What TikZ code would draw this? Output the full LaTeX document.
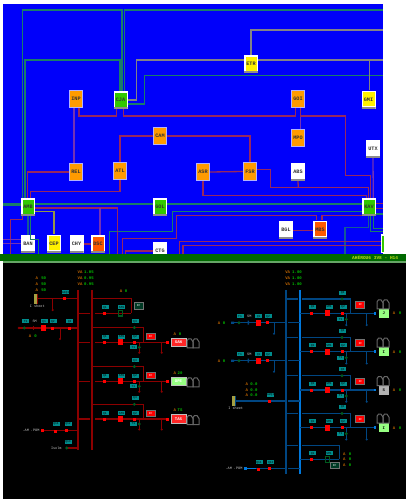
\documentclass[tikz,border=0pt]{standalone}
\usepackage{fontspec}
\setmainfont{Liberation Mono}
\usetikzlibrary{calc}
\definecolor{bgblue}{RGB}{0,0,250}
\definecolor{lgreen}{RGB}{25,125,105}
\definecolor{lred}{RGB}{150,40,95}
\definecolor{lviol}{RGB}{115,50,180}
\definecolor{lgray}{RGB}{130,130,135}
\definecolor{lolive}{RGB}{150,150,70}
\definecolor{lsteel}{RGB}{20,90,150}
\definecolor{torange}{RGB}{255,155,0}
\definecolor{tred}{RGB}{255,90,0}
\definecolor{tgreen}{RGB}{50,200,0}
\definecolor{barg}{RGB}{0,105,0}
\definecolor{dred}{RGB}{140,0,0}
\definecolor{bus1}{RGB}{0,70,130}
\definecolor{bus2}{RGB}{0,120,220}
\definecolor{tealb}{RGB}{0,140,140}
\definecolor{oranget}{RGB}{190,100,0}
\definecolor{greent}{RGB}{0,190,0}
\definecolor{dgr}{RGB}{0,90,30}
\definecolor{paleg}{RGB}{150,255,130}
\newcount\lc
\tikzset{
 tile/.style={rectangle,minimum width=14pt,minimum height=18pt,inner sep=0pt,fill=white,
   font=\fontsize{5.2}{5.2}\selectfont\bfseries,text=black!80,
   path picture={
     \fill[#1] ([shift={(1.5pt,2.5pt)}]path picture bounding box.south west) rectangle ([shift={(-1pt,-1.5pt)}]path picture bounding box.north east);
     \fill[black!45] (path picture bounding box.south west) rectangle ([yshift=1.8pt]path picture bounding box.south east);
   }},
 softtile/.style={rectangle,minimum width=13.5pt,minimum height=17.5pt,inner sep=0pt,fill=#1,draw=white!70!blue,line width=.8pt,
   font=\fontsize{5.2}{5.2}\selectfont\bfseries,text=black!80},
 gl/.style={lgreen,line width=1.3pt},
 rl/.style={lred,line width=1.3pt},
 vl/.style={lviol,line width=1.3pt},
 yl/.style={lgray,line width=1.4pt},
 ol/.style={lolive,line width=1.3pt},
 sl/.style={lsteel,line width=1.3pt},
 tag/.style={rectangle,fill=tealb,inner sep=0pt,minimum width=7pt,minimum height=4pt,text=black,font=\fontsize{3}{3}\selectfont},
 otxt/.style={inner sep=0pt,text=oranget,font=\fontsize{4}{4}\selectfont\bfseries},
 gtxt/.style={inner sep=0pt,text=greent,font=\fontsize{4}{4}\selectfont\bfseries},
 wtxt/.style={inner sep=0pt,text=white!80!black,font=\fontsize{3.5}{3.5}\selectfont},
 brk/.style={rectangle,fill=red,inner sep=0pt,minimum width=3pt,minimum height=3pt},
 bigbrk/.style={rectangle,fill=red,inner sep=0pt,minimum width=5pt,minimum height=6pt},
 gdot/.style={circle,fill=dgr,inner sep=0pt,minimum size=3.2pt},
 alarm/.style={rectangle,fill=red,draw=black!55,line width=.8pt,inner sep=0pt,minimum width=9pt,minimum height=6.5pt,text=white,font=\fontsize{3}{3}\selectfont},
 gbox/.style={rectangle,fill=dgr!120!green,draw=black!55,line width=.8pt,inner sep=0pt,minimum width=9pt,minimum height=6.5pt,text=white,font=\fontsize{3}{3}\selectfont},
 load/.style={rectangle,fill=#1,draw=black!25,line width=.6pt,inner sep=0pt,minimum width=15pt,minimum height=8.5pt,text=white,font=\fontsize{4}{4}\selectfont\bfseries},
 rload/.style={rectangle,fill=#1,inner sep=0pt,minimum width=10pt,minimum height=9pt,text=black,font=\fontsize{4}{4}\selectfont\bfseries},
 xf/.style={draw=black!60!white,line width=1pt},
 rw/.style={dred,line width=1.2pt},
 rt/.style={dred,line width=.9pt},
 bw/.style={bus1,line width=1.2pt},
 bt/.style={bus1,line width=.9pt},
}
\newcommand\nx{\global\advance\lc by 1 }
\newcommand\tg[3]{\nx\node[tag] (tg\the\lc) at (#1,#2) {#3};}
\newcommand\ot[3]{\nx\node[otxt] (ot\the\lc) at (#1,#2) {#3};}
\newcommand\gt[3]{\nx\node[gtxt] (gt\the\lc) at (#1,#2) {#3};}
\newcommand\wt[3]{\nx\node[wtxt] (wt\the\lc) at (#1,#2) {#3};}
\newcommand\bk[2]{\nx\node[brk] (bk\the\lc) at (#1,#2) {};}
\newcommand\bb[2]{\nx\node[bigbrk] (bb\the\lc) at (#1,#2) {};}
\newcommand\gd[2]{\nx\node[gdot] (gd\the\lc) at (#1,#2) {};}
\newcommand\trf[2]{%
 \draw[xf] (#1,#2+9) -- (#1,#2+2) -- (#1+1.5,#2) -- (#1+4,#2) -- (#1+6,#2+3) -- (#1+6,#2+9) -- cycle;
 \draw[xf] (#1+6,#2+9) -- (#1+6,#2+2) -- (#1+7.5,#2) -- (#1+10,#2) -- (#1+12,#2+3) -- (#1+12,#2+9) -- cycle;}
\newcommand\Lfeed[4]{%
 \pgfmathsetmacro\yu{#1-14.7}\pgfmathsetmacro\yl{#1-5.7}\pgfmathsetmacro\yd{#1+10.4}\pgfmathsetmacro\ys{#1+5}\pgfmathsetmacro\yt{#1-21}\pgfmathsetmacro\ya{#1-8.5}
 \draw[rw] (92.3,\yu) -- (143.7,\yu) -- (143.7,#1);
 \draw[rw] (78,#1) -- (90,#1) (95,#1) -- (167,#1);
 \draw[rt] (139.3,#1) -- (139.3,\yd) (161.7,#1) -- (161.7,\yd);
 \fill[dred] (161.7,\yd) circle (1.2pt) (139.3,\yd) circle (1.2pt);
 \bk{104}{#1}\bb{120.3}{#1}\bk{134.3}{#1}\bk{167.5}{#1}
 \gd{134.3}{\yu}\gd{139.3}{\ys}
 \tg{105}{\yl}{Q1}\tg{121.7}{\yl}{SM1}\tg{135}{\yl}{Q2}\tg{135}{\yt}{Q3}\tg{133.3}{\ys}{T1}
 \nx\node[alarm] (al\the\lc) at (150.7,\yl) {IF};
 \nx\node[load=#2] (ld\the\lc) at (178.5,#1) {#3};
 \trf{187}{#1-3.5}
 \ot{174.7}{\ya}{A}\gt{180}{\ya}{#4}}
\newcommand\Rfeed[3]{%
 \pgfmathsetmacro\yu{#1-14.3}\pgfmathsetmacro\yl{#1-6.3}\pgfmathsetmacro\yd{#1+11.7}\pgfmathsetmacro\ys{#1+6}\pgfmathsetmacro\yt{#1-20.7}\pgfmathsetmacro\ya{#1-8.6}\pgfmathsetmacro\ytr{#1-13.5}
 \draw[bw] (285.7,\yu) -- (297.7,\yu) (302.3,\yu) -- (350.7,\yu) -- (350.7,#1);
 \draw[bw] (299.7,#1) -- (374,#1);
 \draw[bt] (346.3,#1) -- (346.3,\yd) (366.7,#1) -- (366.7,\yd);
 \fill[bus1] (346.3,\yd) circle (1.2pt) (366.7,\yd) circle (1.2pt);
 \fill[bus2] (373.5,#1-1.3) rectangle (376,#1+1.3);
 \bk{311.3}{#1}\bb{327.7}{#1}\bk{342}{#1}
 \gd{342}{\yu}\gd{346.3}{\ys}
 \tg{312.7}{\yl}{Q1}\tg{329}{\yl}{SM1}\tg{343}{\yl}{Q2}\tg{342.7}{\yt}{Q3}\tg{340.7}{\ys}{T1}
 \nx\node[alarm] (al\the\lc) at (360.3,\ya) {IF};
 \nx\node[rload=#2] (ld\the\lc) at (383.7,#1) {#3};
 \trf{377}{\ytr}
 \ot{394}{#1}{A}\gt{400}{#1}{0}}
\newcommand\Rinc[1]{%
 \pgfmathsetmacro\yl{#1-6.4}\pgfmathsetmacro\yd{#1+11}
 \draw[bw] (232.3,#1) -- (285.7,#1) (288,#1) -- (299.7,#1);
 \draw[bt] (274,#1) -- (274,\yd);
 \fill[bus1] (274,\yd) circle (1.2pt);
 \fill[bus1] (231,#1-1.2) rectangle (234,#1+1.2) (247.5,#1-2) rectangle (249,#1+2);
 \gd{239}{#1}\bb{258}{#1}\bk{267.3}{#1}
 \tg{240}{\yl}{T1}\nx\node[wtxt] (wt\the\lc) at (249.3,\yl) {SM};\tg{258.7}{\yl}{Q1}\tg{268}{\yl}{Q2}
 \ot{219}{#1}{A}\gt{224}{#1}{0}}
\begin{document}
\begin{tikzpicture}[x=1pt,y=-1pt]
\useasboundingbox (0,0) rectangle (406,499);
\fill[white] (0,0) rectangle (406,499);
\fill[bgblue] (3,4) rectangle (383,254);
\node[softtile=torange] (inp) at (76,99) {INP};
\node[tile=tgreen] (cja) at (120.5,100) {CJA};
\node[tile=yellow] (etr) at (251,64) {ETR};
\node[softtile=torange] (goi) at (298,99) {GOI};
\node[tile=yellow] (gmi) at (368.5,99.5) {GMI};
\node[softtile=torange] (cam) at (160,136) {CAM};
\node[softtile=torange] (mpo) at (298,138) {MPO};
\node[tile=white] (utx) at (373,149) {UTX};
\node[softtile=torange] (rel) at (76,172) {REL};
\node[softtile=torange] (atl) at (120,171) {ATL};
\node[softtile=torange] (asr) at (203,172) {ASR};
\node[softtile=torange] (fsr) at (250,171.5) {FSR};
\node[tile=white] (abs) at (298,172) {ABS};
\node[tile=tgreen] (amb) at (28,207) {AMB};
\node[tile=tgreen] (gol) at (160,207) {GOL};
\node[tile=tgreen] (kav) at (369,207) {KAV};
\node[tile=white] (ban) at (28,244) {BAN};
\node[tile=yellow] (cep) at (54,243.5) {CEP};
\node[tile=white] (chy) at (76.5,244) {CHY};
\node[tile=tred] (dsc) at (98,244) {DSC};
\node[tile=white] (bgl) at (286,230) {BGL};
\node[tile=tred] (mbs) at (320,229.5) {MBS};
\node[tile=white] (ctg) at (160,251) {CTG};
\coordinate (e1) at (383,10);
\coordinate (e2) at (383,60);
\coordinate (e3) at (383,30);
\coordinate (e4) at (383,75.3);
\coordinate (j1) at (369.7,60);
\coordinate (e5) at (3,204);
\coordinate (e6) at (3,205.5);
\coordinate (e7) at (3,239.7);
\coordinate (e8) at (3,243.7);
% green
\draw[gl] ([xshift=1.5pt]cja.north) |- (22.3,10) -- ([xshift=-5.7pt]amb.north);
\draw[gl] ([xshift=3.8pt]cja.north) |- (e1);
\draw[gl] ([xshift=-.5pt]cja.north) |- (25,60) -- ([xshift=-3pt]amb.north);
\draw[gl] ([yshift=-4pt]cja.east) -| (144.7,75.3) -- (e4);
\draw[gl] ([yshift=3pt]amb.east) -- ([yshift=3pt]gol.west);
\draw[gl] ([yshift=3pt]gol.east) -- ([yshift=3pt]kav.west);
\draw[gl] ([yshift=3pt]amb.west) -- (e5);
\draw[gl] ([yshift=1.5pt]amb.west) -- (e6);
\draw[gl] ([yshift=-4.7pt]kav.west) -- (172.3,211.7) -- (172.3,231.3) -- (109.7,231.3) -- (109.7,254);
\draw[gl] ([xshift=2.7pt]amb.south) |- (38.3,239.7) -- (38.3,254);
\draw[gl] ([xshift=1.7pt]kav.south) |- (383,231.3);
\draw[gl] ([xshift=4.3pt]kav.south) |- (383,228.3);
\draw[gl] ([yshift=-7pt]kav.east) -- (383,214);
\draw[sl] (amb.south) -- (ban.north);
\draw[sl] ([xshift=-.3pt]kav.south) |- (345,227.7) -- (345,254);
% grey
\draw[yl] (cja.east) -| (136.7,60) -- ([yshift=4pt]etr.west);
\draw[yl] ([yshift=4pt]etr.east) -- (e2);
\draw[yl] (etr.north) |- (e3);
\draw[yl] (j1) -- ([xshift=1.2pt]gmi.north);
\draw[ol] ([yshift=-4.7pt]amb.east) -| (cep.north);
% red and purple
\draw[vl] ([xshift=-2pt]inp.south) -- ([xshift=-2pt]rel.north);
\draw[rl] ([xshift=3pt]inp.south) |- (116.7,116) -- ([xshift=-3.8pt]cja.south);
\draw[rl] ([xshift=2.8pt]cja.south) |- (295.3,116) -- ([xshift=-2.7pt]goi.south);
\draw[vl] ([xshift=2.7pt]goi.south) -- ([xshift=2.7pt]mpo.north);
\draw[rl] ([xshift=2.7pt]goi.south) |- (345.7,116) |- (370.7,175.7) -- ([xshift=1.7pt]kav.north);
\draw[rl] (cam.west) -| (atl.north);
\draw[rl] (cam.east) -| (fsr.north);
\draw[rl] (rel.west) -| ([xshift=-.3pt]amb.north);
\draw[rl] (atl.south) |- (30.3,191.7) -- ([xshift=2.3pt]amb.north);
\draw[rl] (asr.east) -- (fsr.west);
\draw[rl] (asr.south) |- (366.3,195.7) -- ([xshift=-2.7pt]kav.north);
\draw[rl] ([yshift=2.2pt]fsr.east) -| (270.3,187.7) -- (368.7,187.7) -- ([xshift=-.3pt]kav.north);
\draw[rl] (abs.south) -- (298.3,187.7);
\draw[vl] (utx.south) -- ([xshift=4.3pt]kav.north);
\draw[rl] ([yshift=-1pt]amb.east) -| (117.7,254);
\draw[vl] (100,208) -- ([xshift=2pt]dsc.north);
\draw[rl] (chy.east) -- (dsc.west);
\draw[rl] ([xshift=-3.3pt]mbs.north) |- (176.3,215.7) -- (176.3,238.7) -- (122.7,238.7) -- (122.7,254);
\draw[rl] ([xshift=2pt]mbs.north) |- ([yshift=-8.7pt]kav.west);
\draw[rl] (ctg.west) -| (125.3,254);
\draw[rl] ([yshift=-.5pt]bgl.east) -- ([yshift=-1pt]mbs.west);
\draw[rl] (179.3,254) |- (383,241.7);
\draw[rl] (183,254) |- (383,245.7);
\draw[rl] ([yshift=3.7pt]kav.east) -- (383,203.3);
\draw[rl] ([yshift=-1.3pt]kav.east) -- (383,208.3);
\draw[rl] ([xshift=-5.3pt]amb.south) |- (10.3,219.3) -- (10.3,254);
\draw[vl] (ban.west |- e7) -- (e7);
\draw[vl] (ban.west |- e8) -- (e8);
% sliver of the tile cut at the right edge
\fill[white] (381,234) rectangle (383,253);
\fill[tgreen] (382.4,236) rectangle (384,252);
% bar and lower panel
\fill[barg] (0,254) rectangle (406,261);
\fill[barg!60!white] (3,261) rectangle (406,262.5);
\fill[black] (3,262.5) rectangle (406,499);
\node[anchor=west,inner sep=0pt,text=yellow!75!green,font=\fontsize{4.5}{4.5}\selectfont\bfseries] (bart) at (352,258) {AHÉROU6 3V8 - H14};
% left (red) single-line
\draw[dred,line width=2pt] (78,290) -- (78,450);
\draw[dred,line width=2pt] (92.3,290) -- (92.3,450);
\foreach \yy/\tt in {272.3/1.05,278/0.95,284/0.95}{\ot{80}{\yy}{VA}\gt{89}{\yy}{\tt}}
\foreach \yy/\tt in {277.7/50,284/50,290/50}{\ot{36.7}{\yy}{A}\gt{43.7}{\yy}{\tt}}
\fill[yellow!60!black] (34,294) rectangle (36.5,304);
\draw[rw] (37.7,298.7) -- (78,298.7);
\draw[rw] (37.7,294) -- (37.7,304);
\wt{37.3}{306}{I sheet}
\bk{64.3}{298.7}\tg{65.7}{292.3}{G1Q1}
\draw[rt] (52.7,298.7) -- (52.7,310);\fill[dred] (52.7,310) circle (1.2pt);
\draw[rw] (92.3,298.7) -- (131.3,298.7) -- (131.3,313.3);
\draw[rw] (78,313.3) -- (90,313.3) (95,313.3) -- (131.3,313.3);
\bk{104}{313.3}\tg{105}{307.3}{Q1}\tg{121.7}{307.3}{SM1}
\draw[dgr,line width=1.2pt] (118.3,310.5) rectangle (122.3,316);
\nx\node[gbox] (gb1) at (138.7,306) {IF};
\ot{121}{291}{A}\gt{126}{291}{0}
\draw[rw] (19,328) -- (78,328);
\draw[rt] (60,328) -- (60,339);\fill[dred] (60,339) circle (1.2pt);
\fill[dred] (19,328) circle (1.4pt);
\fill[dred] (33,326) rectangle (34.4,330);
\gd{24.3}{328}\bb{43.3}{328}\bk{52.7}{328}\bk{69.3}{328}
\tg{25.7}{321.3}{T1}\wt{34.7}{321.3}{SM}\tg{44}{321.3}{Q1}\tg{53}{321.3}{Q2}\tg{69.7}{321.3}{Q3}
\ot{30}{336.3}{A}\gt{35.7}{336.3}{0}
\Lfeed{342.3}{red!85!white}{SAN}{0}
\Lfeed{381.3}{paleg}{OPE}{20}
\Lfeed{419}{red!85!white}{TAS}{TS}
\draw[rw] (42.3,430.7) -- (78,430.7);
\bk{42.3}{430.7}\bk{55}{431.5}\bk{66.7}{430.7}
\tg{56}{424}{Q11}\tg{68}{424}{Q12}
\wt{31}{430.7}{.AM .POM}
\draw[rw] (66.7,448) -- (78,448);
\gd{66.7}{448}\tg{68}{442}{Q13}\wt{56.3}{448}{Isolm}
% right (blue) single-line
\draw[bus1,line width=2.2pt] (285.7,290) -- (285.7,474);
\draw[bus2,line width=1.6pt] (299.7,290) -- (299.7,474);
\foreach \yy/\tt in {272.3/1.00,278/1.00,284/1.00}{\ot{287.7}{\yy}{VA}\gt{297}{\yy}{\tt}}
\Rinc{322.7}
\Rinc{360.7}
\Rfeed{313.3}{paleg}{J}
\Rfeed{351.7}{paleg}{I}
\Rfeed{390}{white!70!black}{S}
\Rfeed{427.7}{paleg}{I}
\fill[yellow!60!black] (232,396) rectangle (234.5,406);
\fill[bus1] (234.5,396) rectangle (236,406);
\draw[bw] (236,401) -- (285.7,401) (288,401) -- (299.7,401);
\bk{269.3}{401}\tg{270.7}{395}{G2Q1}\wt{235.7}{408.7}{I sheet}
\foreach \yy/\tt in {383.7/0.0,389.7/0.0,395/0.0}{\ot{246.7}{\yy}{A}\gt{254}{\yy}{\tt}}
\draw[bw] (285.7,445.3) -- (297.7,445.3) (302,445.3) -- (339.3,445.3) -- (339.3,459.3);
\draw[bw] (299.7,459.3) -- (339.3,459.3);
\bk{311.3}{459.3}\tg{312.7}{453.3}{Q1}\tg{329}{453.3}{SM1}
\draw[dgr,line width=1.2pt] (325.7,456.3) rectangle (329.7,462.3);
\nx\node[gbox] (gb2) at (334.7,465.3) {IF};
\foreach \yy in {453.7,459.3,465}{\ot{344.3}{\yy}{A}\gt{350}{\yy}{0}}
\draw[bus2,line width=1.2pt] (245.3,468.3) -- (256,468.3);
\draw[bw] (256,468.3) -- (285.7,468.3) (288,468.3) -- (299.7,468.3);
\fill[bus2] (244,467) rectangle (246.6,469.6);
\bk{258}{469}\bk{269.3}{468.3}
\tg{259}{462.3}{Q11}\tg{270.7}{462.3}{Q12}
\wt{234}{468.3}{.AM .POM}
\end{tikzpicture}
\end{document}
